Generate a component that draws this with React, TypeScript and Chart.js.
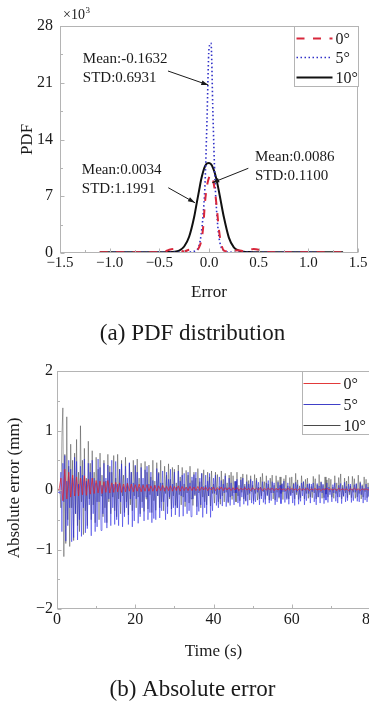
import React, { useEffect, useRef } from 'react';
import { Chart, registerables } from 'chart.js';

Chart.register(...registerables);

const SERIF = '"Liberation Serif", "Times New Roman", Times, serif';
const INK = '#1a1a1a';
const AXIS = '#b4b4b4';

// ---------------- (a) PDF distribution ----------------
const PDF_X = [-1.1, -1.0, -0.8, -0.6, -0.5, -0.45, -0.4, -0.35, -0.3, -0.25, -0.2, -0.15, -0.12, -0.1, -0.08, -0.06, -0.04, -0.02, 0, 0.02, 0.04, 0.06, 0.08, 0.1, 0.12, 0.15, 0.2, 0.25, 0.3, 0.35, 0.4, 0.45, 0.5, 0.55, 0.6, 0.8, 1.0, 1.1, 1.2, 1.35];
const PDF_0DEG = [0.1, 0.1, 0.1, 0.1, 0.1, 0.15, 0.4, 0.5, 0.35, 0.2, 0.4, 0.45, 0.4, 0.7, 1.4, 3.0, 6.3, 8.3, 9.3, 9.6, 9.0, 7.6, 5.4, 2.9, 1.3, 0.3, 0.2, 0.3, 0.35, 0.2, 0.35, 0.5, 0.4, 0.15, 0.1, 0.1, 0.1, 0.1, 0.1, 0.1];
const PDF_5DEG = [null, 0.1, 0.1, 0.1, 0.1, 0.1, 0.1, 0.1, 0.1, 0.1, 0.12, 0.2, 0.4, 0.9, 2.2, 4.6, 8.5, 16.5, 25.2, 25.9, 17.0, 9.0, 4.6, 2.0, 0.8, 0.3, 0.12, 0.1, 0.1, 0.1, 0.1, 0.1, 0.1, 0.1, 0.1, 0.1, 0.1, 0.1, null, null];
const PDF_10DEG = [0.1, 0.1, 0.1, 0.1, 0.1, 0.1, 0.12, 0.15, 0.3, 0.8, 2.0, 4.4, 6.4, 7.7, 9.0, 10.0, 10.7, 11.05, 11.1, 10.95, 10.5, 9.8, 8.8, 7.6, 6.3, 4.4, 1.9, 0.7, 0.3, 0.15, 0.12, 0.1, 0.1, 0.1, 0.1, 0.1, 0.1, 0.1, 0.1, 0.1];
const SERIES_LABELS = ['0°', '5°', '10°'];
const PDF_X_TICKS = [-1.5, -1.0, -0.5, 0, 0.5, 1.0, 1.5];
const PDF_X_MINOR = [-1.25, -0.75, -0.25, 0.25, 0.75, 1.25];
const PDF_Y_TICKS = [0, 7, 14, 21, 28];
const PDF_Y_MINOR = [3.5, 10.5, 17.5, 24.5];
const PDF_NOTE_TEXT = [
  ['Mean:-0.1632', 'STD:0.6931'],
  ['Mean:0.0034', 'STD:1.1991'],
  ['Mean:0.0086', 'STD:0.1100'],
];
// text anchor (left, first baseline) and arrow from/to, in data units
const PDF_NOTE_AT = [[-1.27, 23.44], [-1.28, 9.74], [0.463, 11.39]];
const PDF_NOTE_FROM = [[-0.413, 22.45], [-0.41, 8.05], [0.396, 10.45]];
const PDF_NOTE_TO = [[-0.007, 20.72], [-0.141, 6.2], [0.033, 8.67]];

// ---------------- (b) Absolute error ----------------
// 0° series, sampled every 0.5 s
const TIME_COARSE = [
  0, 0.5, 1, 1.5, 2, 2.5, 3, 3.5, 4, 4.5,
  5, 5.5, 6, 6.5, 7, 7.5, 8, 8.5, 9, 9.5,
  10, 10.5, 11, 11.5, 12, 12.5, 13, 13.5, 14, 14.5,
  15, 15.5, 16, 16.5, 17, 17.5, 18, 18.5, 19, 19.5,
  20, 20.5, 21, 21.5, 22, 22.5, 23, 23.5, 24, 24.5,
  25, 25.5, 26, 26.5, 27, 27.5, 28, 28.5, 29, 29.5,
  30, 30.5, 31, 31.5, 32, 32.5, 33, 33.5, 34, 34.5,
  35, 35.5, 36, 36.5, 37, 37.5, 38, 38.5, 39, 39.5,
  40, 40.5, 41, 41.5, 42, 42.5, 43, 43.5, 44, 44.5,
  45, 45.5, 46, 46.5, 47, 47.5, 48, 48.5, 49, 49.5,
  50, 50.5, 51, 51.5, 52, 52.5, 53, 53.5, 54, 54.5,
  55, 55.5, 56, 56.5, 57, 57.5, 58, 58.5, 59, 59.5,
  60, 60.5, 61, 61.5, 62, 62.5, 63, 63.5, 64, 64.5,
  65, 65.5, 66, 66.5, 67, 67.5, 68, 68.5, 69, 69.5,
  70, 70.5, 71, 71.5, 72, 72.5, 73, 73.5, 74, 74.5,
  75, 75.5, 76, 76.5, 77, 77.5, 78, 78.5, 79, 79.5,
  80,
];
const ERR_0DEG = [
  0, 0, 0.2, -0.18, 0.35, -0.15, 0.3, -0.12, 0.25, -0.1,
  0.22, -0.1, 0.2, -0.08, 0.24, -0.09, 0.18, -0.07, 0.2, -0.06,
  0.16, -0.05, 0.15, -0.06, 0.14, -0.04, 0.16, -0.05, 0.12, -0.04,
  0.13, -0.03, 0.12, -0.04, 0.1, -0.03, 0.11, -0.02, 0.1, -0.03,
  0.09, -0.02, 0.1, -0.03, 0.08, -0.02, 0.09, -0.02, 0.07, -0.02,
  0.08, -0.02, 0.07, -0.01, 0.08, -0.02, 0.06, -0.01, 0.07, -0.02,
  0.06, -0.01, 0.07, -0.02, 0.06, -0.01, 0.05, -0.01, 0.06, -0.01,
  0.05, -0.01, 0.06, -0.01, 0.05, 0, 0.05, -0.01, 0.04, 0,
  0.05, -0.01, 0.04, 0, 0.05, -0.01, 0.04, 0, 0.04, -0.01,
  0.04, 0, 0.04, -0.01, 0.03, 0, 0.04, 0, 0.03, -0.01,
  0.04, 0, 0.03, 0, 0.04, -0.01, 0.03, 0, 0.03, 0,
  0.03, -0.01, 0.03, 0, 0.03, 0, 0.02, -0.01, 0.03, 0,
  0.03, 0, 0.02, -0.01, 0.03, 0, 0.02, 0, 0.03, -0.01,
  0.02, 0, 0.03, 0, 0.02, -0.01, 0.02, 0, 0.03, 0,
  0.02, 0, 0.02, -0.01, 0.03, 0, 0.02, 0, 0.02, -0.01,
  0.02, 0, 0.03, 0, 0.02, -0.01, 0.02, 0, 0.02, 0,
  0.01,
];
// 5° and 10° series, sampled every 0.25 s
const TIME_FINE = [
  0, 0.25, 0.5, 0.75, 1, 1.25, 1.5, 1.75, 2, 2.25, 2.5, 2.75, 3, 3.25, 3.5, 3.75, 4, 4.25, 4.5, 4.75,
  5, 5.25, 5.5, 5.75, 6, 6.25, 6.5, 6.75, 7, 7.25, 7.5, 7.75, 8, 8.25, 8.5, 8.75, 9, 9.25, 9.5, 9.75,
  10, 10.25, 10.5, 10.75, 11, 11.25, 11.5, 11.75, 12, 12.25, 12.5, 12.75, 13, 13.25, 13.5, 13.75, 14, 14.25, 14.5, 14.75,
  15, 15.25, 15.5, 15.75, 16, 16.25, 16.5, 16.75, 17, 17.25, 17.5, 17.75, 18, 18.25, 18.5, 18.75, 19, 19.25, 19.5, 19.75,
  20, 20.25, 20.5, 20.75, 21, 21.25, 21.5, 21.75, 22, 22.25, 22.5, 22.75, 23, 23.25, 23.5, 23.75, 24, 24.25, 24.5, 24.75,
  25, 25.25, 25.5, 25.75, 26, 26.25, 26.5, 26.75, 27, 27.25, 27.5, 27.75, 28, 28.25, 28.5, 28.75, 29, 29.25, 29.5, 29.75,
  30, 30.25, 30.5, 30.75, 31, 31.25, 31.5, 31.75, 32, 32.25, 32.5, 32.75, 33, 33.25, 33.5, 33.75, 34, 34.25, 34.5, 34.75,
  35, 35.25, 35.5, 35.75, 36, 36.25, 36.5, 36.75, 37, 37.25, 37.5, 37.75, 38, 38.25, 38.5, 38.75, 39, 39.25, 39.5, 39.75,
  40, 40.25, 40.5, 40.75, 41, 41.25, 41.5, 41.75, 42, 42.25, 42.5, 42.75, 43, 43.25, 43.5, 43.75, 44, 44.25, 44.5, 44.75,
  45, 45.25, 45.5, 45.75, 46, 46.25, 46.5, 46.75, 47, 47.25, 47.5, 47.75, 48, 48.25, 48.5, 48.75, 49, 49.25, 49.5, 49.75,
  50, 50.25, 50.5, 50.75, 51, 51.25, 51.5, 51.75, 52, 52.25, 52.5, 52.75, 53, 53.25, 53.5, 53.75, 54, 54.25, 54.5, 54.75,
  55, 55.25, 55.5, 55.75, 56, 56.25, 56.5, 56.75, 57, 57.25, 57.5, 57.75, 58, 58.25, 58.5, 58.75, 59, 59.25, 59.5, 59.75,
  60, 60.25, 60.5, 60.75, 61, 61.25, 61.5, 61.75, 62, 62.25, 62.5, 62.75, 63, 63.25, 63.5, 63.75, 64, 64.25, 64.5, 64.75,
  65, 65.25, 65.5, 65.75, 66, 66.25, 66.5, 66.75, 67, 67.25, 67.5, 67.75, 68, 68.25, 68.5, 68.75, 69, 69.25, 69.5, 69.75,
  70, 70.25, 70.5, 70.75, 71, 71.25, 71.5, 71.75, 72, 72.25, 72.5, 72.75, 73, 73.25, 73.5, 73.75, 74, 74.25, 74.5, 74.75,
  75, 75.25, 75.5, 75.75, 76, 76.25, 76.5, 76.75, 77, 77.25, 77.5, 77.75, 78, 78.25, 78.5, 78.75, 79, 79.25, 79.5, 79.75,
  80,
];
const ERR_5DEG = [
  -0.04, -0.05, -0.03, -0.06, 0.3, -0.7, 0.45, -0.2, 0.58, -0.86, 0.15, -0.6, 0.5, -0.3, 0.35, -0.87, 0.2, -0.8, 0.55, -0.4,
  0.48, -0.84, 0.1, -0.5, 0.4, -0.78, 0.25, -0.3, 0.52, -0.72, 0.15, -0.65, 0.45, -0.25, 0.3, -0.77, 0.5, -0.4, 0.2, -0.7,
  0.12, -0.62, 0.52, -0.2, 0.38, -0.68, 0.08, -0.4, 0.45, -0.55, 0.2, -0.64, 0.42, -0.15, 0.3, -0.6, 0.5, -0.3, 0.1, -0.58,
  0.48, -0.5, 0.1, -0.6, 0.35, -0.2, 0.44, -0.62, 0.06, -0.45, 0.4, -0.3, 0.2, -0.58, 0.46, -0.15, 0.3, -0.62, 0.12, -0.52,
  0.42, -0.15, 0.3, -0.56, 0.05, -0.45, 0.38, -0.3, 0.2, -0.52, 0.34, -0.12, 0.4, -0.5, 0.1, -0.38, 0.3, -0.55, 0.16, -0.48,
  0.08, -0.5, 0.36, -0.1, 0.28, -0.47, 0.12, -0.35, 0.32, -0.2, 0.04, -0.5, 0.3, -0.4, 0.18, -0.12, 0.35, -0.45, 0.1, -0.3,
  0.3, -0.42, 0.05, -0.3, 0.32, -0.45, 0.15, -0.1, 0.25, -0.44, 0.28, -0.2, 0.04, -0.4, 0.3, -0.35, 0.12, -0.45, 0.22, -0.15,
  0.26, -0.08, 0.3, -0.42, 0.02, -0.36, 0.2, -0.25, 0.28, -0.46, 0.06, -0.3, 0.25, -0.4, 0.15, -0.1, 0.28, -0.46, 0.05, -0.35,
  0.2, -0.06, 0.25, -0.26, 0.02, -0.3, 0.22, -0.15, 0.16, -0.27, 0.1, -0.05, 0.24, -0.28, 0.04, -0.2, 0.2, -0.26, 0.12, -0.1,
  0.03, -0.25, 0.15, -0.05, 0.18, -0.22, 0.02, -0.28, 0.17, -0.12, 0.2, -0.24, 0.06, -0.18, 0.14, -0.26, 0.1, -0.06, 0.18, -0.22,
  0.15, -0.24, 0.02, -0.2, 0.16, -0.04, 0.13, -0.25, 0.05, -0.15, 0.14, -0.21, 0.01, -0.24, 0.12, -0.1, 0.16, -0.22, 0.04, -0.18,
  0.14, -0.05, 0.12, -0.25, 0.02, -0.2, 0.13, -0.12, 0.08, -0.23, 0.11, -0.03, 0.15, -0.21, 0.03, -0.16, 0.12, -0.24, 0.06, -0.1,
  0.02, -0.22, 0.1, -0.26, 0.13, -0.04, 0.09, -0.24, 0.01, -0.19, 0.12, -0.1, 0.14, -0.25, 0.04, -0.18, 0.1, -0.06, 0.11, -0.22,
  0.1, -0.03, 0.12, -0.2, 0.02, -0.25, 0.11, -0.12, 0.07, -0.22, 0.13, -0.05, 0.1, -0.23, 0.03, -0.17, 0.12, -0.21, 0.05, -0.08,
  0.01, -0.2, 0.09, -0.05, 0.12, -0.19, 0.02, -0.22, 0.08, -0.12, 0.11, -0.23, 0.04, -0.1, 0.13, -0.2, 0.06, -0.18, 0.1, -0.04,
  0.1, -0.21, 0.02, -0.18, 0.09, -0.04, 0.11, -0.19, 0.01, -0.2, 0.12, -0.08, 0.07, -0.22, 0.03, -0.17, 0.1, -0.2, 0.05, -0.12,
  0.05,
];
const ERR_10DEG = [
  0, 0, 0, 0, -0.3, 0.9, 1.38, -1.12, 0.6, -0.9, 1.23, -0.5, 0.4, -0.95, 0.77, -0.3, 0.5, -0.85, 0.62, -0.4,
  0.85, -0.6, 0.3, -0.7, 1.08, -0.2, 0.5, -0.75, 0.7, -0.35, 0.2, -0.6, 0.82, -0.15, 0.45, -0.5, 0.66, -0.25, 0.3, -0.55,
  0.55, -0.2, 0.35, -0.5, 0.62, -0.1, 0.25, -0.45, 0.5, -0.3, 0.15, -0.55, 0.6, -0.2, 0.4, -0.4, 0.3, -0.12, 0.58, -0.35,
  0.2, -0.45, 0.6, -0.15, 0.35, -0.4, 0.5, -0.1, 0.25, -0.38, 0.55, -0.2, 0.12, -0.42, 0.45, -0.25, 0.3, -0.35, 0.5, -0.1,
  0.4, -0.3, 0.52, -0.12, 0.2, -0.4, 0.45, -0.2, 0.1, -0.36, 0.48, -0.15, 0.3, -0.32, 0.42, -0.08, 0.22, -0.38, 0.5, -0.18,
  0.15, -0.34, 0.46, -0.1, 0.3, -0.3, 0.5, -0.2, 0.12, -0.35, 0.4, -0.06, 0.25, -0.28, 0.44, -0.15, 0.18, -0.32, 0.38, -0.1,
  0.35, -0.26, 0.12, -0.3, 0.42, -0.08, 0.22, -0.25, 0.38, -0.12, 0.1, -0.28, 0.33, -0.05, 0.25, -0.22, 0.4, -0.15, 0.16, -0.26,
  0.3, -0.1, 0.2, -0.28, 0.36, -0.05, 0.14, -0.3, 0.28, -0.12, 0.34, -0.2, 0.08, -0.25, 0.3, -0.1, 0.22, -0.27, 0.32, -0.06,
  0.1, -0.22, 0.3, -0.08, 0.26, -0.2, 0.06, -0.24, 0.32, -0.1, 0.18, -0.2, 0.28, -0.04, 0.12, -0.22, 0.25, -0.12, 0.3, -0.16,
  0.24, -0.05, 0.14, -0.2, 0.3, -0.1, 0.08, -0.18, 0.22, -0.04, 0.27, -0.15, 0.1, -0.19, 0.26, -0.08, 0.16, -0.17, 0.24, -0.03,
  0.08, -0.18, 0.26, -0.06, 0.2, -0.17, 0.05, -0.15, 0.22, -0.1, 0.28, -0.03, 0.14, -0.16, 0.24, -0.08, 0.1, -0.17, 0.2, -0.05,
  0.25, -0.15, 0.08, -0.17, 0.24, -0.04, 0.16, -0.14, 0.22, -0.06, 0.1, -0.16, 0.19, -0.03, 0.25, -0.14, 0.07, -0.15, 0.21, -0.08,
  0.22, -0.05, 0.12, -0.15, 0.28, -0.08, 0.17, -0.16, 0.07, -0.13, 0.24, -0.02, 0.14, -0.15, 0.18, -0.06, 0.2, -0.14, 0.1, -0.12,
  0.06, -0.13, 0.23, -0.05, 0.19, -0.15, 0.09, -0.12, 0.26, -0.04, 0.14, -0.14, 0.08, -0.13, 0.22, -0.07, 0.17, -0.12, 0.2, -0.03,
  0.18, -0.12, 0.05, -0.14, 0.24, -0.06, 0.12, -0.12, 0.21, -0.03, 0.27, -0.15, 0.08, -0.11, 0.2, -0.05, 0.15, -0.13, 0.23, -0.08,
  0.07, -0.13, 0.23, -0.04, 0.19, -0.14, 0.1, -0.12, 0.25, -0.06, 0.14, -0.15, 0.09, -0.12, 0.22, -0.03, 0.18, -0.13, 0.12, -0.1,
  0.05,
];
const ERR_X_TICKS = [0, 20, 40, 60, 80];
const ERR_X_MINOR = [10, 30, 50, 70];
const ERR_Y_TICKS = [-2, -1, 0, 1, 2];
const ERR_Y_MINOR = [-1.5, -0.5, 0.5, 1.5];

// ---------------- helpers ----------------
function withMinus(s: string) {
  return s.startsWith('-') ? '\u2212' + s.slice(1) : s;
}

function frameAndTicks(chart: any, xMaj: number[], xMin: number[], yMaj: number[], yMin: number[]) {
  const ctx = chart.ctx;
  const { left, right, top, bottom } = chart.chartArea;
  const xs = chart.scales.x;
  const ys = chart.scales.y;
  ctx.save();
  ctx.strokeStyle = AXIS;
  ctx.lineWidth = 1;
  ctx.setLineDash([]);
  const L = Math.round(left) + 0.5, R = Math.round(right) - 0.5;
  const T = Math.round(top) + 0.5, B = Math.round(bottom) - 0.5;
  ctx.strokeRect(L, T, R - L, B - T);
  ctx.beginPath();
  const xt = (vals: number[], len: number) => {
    for (const v of vals) {
      const p = Math.round(xs.getPixelForValue(v)) + 0.5;
      ctx.moveTo(p, B);
      ctx.lineTo(p, B - len);
    }
  };
  const yt = (vals: number[], len: number) => {
    for (const v of vals) {
      const p = Math.round(ys.getPixelForValue(v)) + 0.5;
      ctx.moveTo(L, p);
      ctx.lineTo(L + len, p);
    }
  };
  xt(xMaj, 4); xt(xMin, 2.5); yt(yMaj, 4); yt(yMin, 2.5);
  ctx.stroke();
  ctx.restore();
}

function arrow(ctx: CanvasRenderingContext2D, x1: number, y1: number, x2: number, y2: number) {
  ctx.beginPath();
  ctx.moveTo(x1, y1);
  ctx.lineTo(x2, y2);
  ctx.stroke();
  const a = Math.atan2(y2 - y1, x2 - x1);
  const len = 7, w = 2.3;
  ctx.beginPath();
  ctx.moveTo(x2, y2);
  ctx.lineTo(x2 - len * Math.cos(a) + w * Math.sin(a), y2 - len * Math.sin(a) - w * Math.cos(a));
  ctx.lineTo(x2 - len * Math.cos(a) - w * Math.sin(a), y2 - len * Math.sin(a) + w * Math.cos(a));
  ctx.closePath();
  ctx.fill();
}

function legend(chart: any, colors: string[], widths: number[], boxW: number, boxH: number, rows: number[], lineX0: number, lineX1: number, textX: number, size: number) {
  const ctx = chart.ctx;
  const { right, top } = chart.chartArea;
  const bx = Math.round(right - boxW) + 0.5;
  const by = Math.round(top) + 0.5;
  ctx.save();
  ctx.fillStyle = '#ffffff';
  ctx.fillRect(bx, by, boxW, boxH);
  ctx.strokeStyle = AXIS;
  ctx.lineWidth = 1;
  ctx.strokeRect(bx, by, boxW, boxH);
  chart.data.datasets.forEach((ds: any, i: number) => {
    const y = Math.round(by + rows[i]) + 0.5;
    ctx.strokeStyle = colors[i];
    ctx.lineWidth = widths[i];
    ctx.setLineDash(ds.borderDash || []);
    ctx.beginPath();
    ctx.moveTo(bx + lineX0, y);
    ctx.lineTo(bx + lineX1, y);
    ctx.stroke();
    ctx.setLineDash([]);
    ctx.fillStyle = INK;
    ctx.font = `${size}px ${SERIF}`;
    ctx.textAlign = 'left';
    ctx.textBaseline = 'middle';
    ctx.fillText(ds.label, bx + textX, y + 1);
  });
  ctx.restore();
}

function text(ctx: CanvasRenderingContext2D, s: string, x: number, y: number, size: number, rotate = false) {
  ctx.save();
  ctx.fillStyle = INK;
  ctx.font = `${size}px ${SERIF}`;
  ctx.textAlign = 'center';
  ctx.textBaseline = 'middle';
  ctx.translate(x, y);
  if (rotate) ctx.rotate(-Math.PI / 2);
  ctx.fillText(s, 0, 0);
  ctx.restore();
}

const PDF_COLORS = ['#d8283c', '#3030c8', '#111111'];
const PDF_WIDTHS = [2, 1.6, 2];
const ERR_COLORS = ['rgba(228,30,40,0.85)', 'rgba(30,30,225,0.7)', 'rgba(30,30,30,0.55)'];
const ERR_LEGEND_COLORS = ['#e23a3a', '#4040c8', '#4a4a4a'];

const pdfDecor = {
  id: 'pdfDecor',
  afterDraw(chart: any) {
    const ctx = chart.ctx as CanvasRenderingContext2D;
    const { left, right, top, bottom } = chart.chartArea;
    const xs = chart.scales.x, ys = chart.scales.y;
    frameAndTicks(chart, PDF_X_TICKS, PDF_X_MINOR, PDF_Y_TICKS, PDF_Y_MINOR);
    ctx.save();
    ctx.fillStyle = INK;
    ctx.textAlign = 'left';
    ctx.textBaseline = 'alphabetic';
    ctx.font = `14px ${SERIF}`;
    ctx.fillText('×10', left + 3, top - 7);
    const w = ctx.measureText('×10').width;
    ctx.font = `9px ${SERIF}`;
    ctx.fillText('3', left + 3 + w + 0.5, top - 13);
    ctx.restore();
    ctx.save();
    ctx.fillStyle = INK;
    ctx.strokeStyle = INK;
    ctx.lineWidth = 1;
    ctx.font = `15px ${SERIF}`;
    ctx.textAlign = 'left';
    ctx.textBaseline = 'alphabetic';
    PDF_NOTE_TEXT.forEach((lines, i) => {
      const tx = xs.getPixelForValue(PDF_NOTE_AT[i][0]);
      const ty = ys.getPixelForValue(PDF_NOTE_AT[i][1]);
      lines.forEach((ln, k) => ctx.fillText(ln, tx, ty + k * 19));
      arrow(ctx,
        xs.getPixelForValue(PDF_NOTE_FROM[i][0]), ys.getPixelForValue(PDF_NOTE_FROM[i][1]),
        xs.getPixelForValue(PDF_NOTE_TO[i][0]), ys.getPixelForValue(PDF_NOTE_TO[i][1]));
    });
    ctx.restore();
    legend(chart, PDF_COLORS, PDF_WIDTHS, 64, 60, [11, 30.5, 50], 2, 38, 41, 16);
    text(ctx, 'PDF', 27.5, (top + bottom) / 2, 17, true);
    text(ctx, 'Error', (left + right) / 2, bottom + 40, 17);
    text(ctx, '(a) PDF distribution', 192.5, bottom + 81, 23);
  },
};

const errDecor = {
  id: 'errDecor',
  afterDraw(chart: any) {
    const ctx = chart.ctx as CanvasRenderingContext2D;
    const { left, right, top, bottom } = chart.chartArea;
    frameAndTicks(chart, ERR_X_TICKS, ERR_X_MINOR, ERR_Y_TICKS, ERR_Y_MINOR);
    legend(chart, ERR_LEGEND_COLORS, [1.2, 1.2, 1.2], 68, 63, [11, 32, 53], 1, 38, 41, 16);
    text(ctx, 'Absolute error (mm)', 15, (top + bottom) / 2 - 2, 17, true);
    text(ctx, 'Time (s)', (left + right) / 2, bottom + 43, 17);
    text(ctx, '(b) Absolute error', 192.5, bottom + 81, 23);
  },
};

function pts(xs: number[], ys: (number | null)[]) {
  return xs.map((x, i) => ({ x, y: ys[i] })).filter((p) => p.y !== null && p.y !== undefined);
}

function axisOpts(min: number, max: number, ticks: number[], fmt: (v: number) => string, size: number, pad: number, fit: (s: any) => void) {
  return {
    type: 'linear',
    min,
    max,
    grid: { display: false, drawTicks: false },
    border: { display: false },
    afterBuildTicks: (s: any) => { s.ticks = ticks.map((v) => ({ value: v })); },
    afterFit: (s: any) => { fit(s); s.paddingLeft = 0; s.paddingRight = 0; s.paddingTop = 0; s.paddingBottom = 0; },
    ticks: {
      autoSkip: false,
      maxRotation: 0,
      padding: pad,
      color: INK,
      font: { family: SERIF, size },
      callback: (v: any) => fmt(Number(v)),
    },
  };
}

export default function App() {
  const refA = useRef<HTMLCanvasElement>(null);
  const refB = useRef<HTMLCanvasElement>(null);

  useEffect(() => {
    const chartA = new Chart(refA.current as HTMLCanvasElement, {
      type: 'line',
      data: {
        datasets: [
          { label: SERIES_LABELS[0], data: pts(PDF_X, PDF_0DEG), borderColor: PDF_COLORS[0], borderWidth: PDF_WIDTHS[0], borderDash: [8, 8.5], pointRadius: 0, cubicInterpolationMode: 'monotone' },
          { label: SERIES_LABELS[1], data: pts(PDF_X, PDF_5DEG), borderColor: PDF_COLORS[1], borderWidth: PDF_WIDTHS[1], borderDash: [1.5, 2.5], pointRadius: 0, cubicInterpolationMode: 'monotone' },
          { label: SERIES_LABELS[2], data: pts(PDF_X, PDF_10DEG), borderColor: PDF_COLORS[2], borderWidth: PDF_WIDTHS[2], pointRadius: 0, cubicInterpolationMode: 'monotone' },
        ] as any,
      },
      options: {
        responsive: false,
        animation: false,
        events: [],
        layout: { padding: { left: 0, top: 26, right: 11, bottom: 62 } },
        plugins: { legend: { display: false }, tooltip: { enabled: false } },
        scales: {
          x: axisOpts(-1.5, 1.5, PDF_X_TICKS, (v) => withMinus(v.toFixed(1)), 15, 1, (s) => { s.height = 30; }),
          y: axisOpts(0, 28, PDF_Y_TICKS, (v) => String(v), 16, 7, (s) => { s.width = 60; }),
        } as any,
      },
      plugins: [pdfDecor],
    });

    const chartB = new Chart(refB.current as HTMLCanvasElement, {
      type: 'line',
      data: {
        datasets: [
          { label: SERIES_LABELS[0], data: pts(TIME_COARSE, ERR_0DEG), borderColor: ERR_COLORS[0], borderWidth: 0.8, pointRadius: 0, tension: 0 },
          { label: SERIES_LABELS[1], data: pts(TIME_FINE, ERR_5DEG), borderColor: ERR_COLORS[1], borderWidth: 0.7, pointRadius: 0, tension: 0 },
          { label: SERIES_LABELS[2], data: pts(TIME_FINE, ERR_10DEG), borderColor: ERR_COLORS[2], borderWidth: 0.7, pointRadius: 0, tension: 0 },
        ] as any,
      },
      options: {
        responsive: false,
        animation: false,
        events: [],
        layout: { padding: { left: 0, top: 26, right: 30, bottom: 63 } },
        plugins: { legend: { display: false }, tooltip: { enabled: false } },
        scales: {
          x: axisOpts(0, 80, ERR_X_TICKS, (v) => String(v), 16, 1, (s) => { s.height = 30; }),
          y: axisOpts(-2, 2, ERR_Y_TICKS, (v) => withMinus(String(v)), 16, 4, (s) => { s.width = 57; }),
        } as any,
      },
      plugins: [errDecor],
    });

    return () => {
      chartA.destroy();
      chartB.destroy();
    };
  }, []);

  return (
    <div style={{ position: 'fixed', left: 0, top: 0, width: 369, height: 702, overflow: 'hidden', background: '#ffffff' }}>
      <canvas ref={refA} width={369} height={345} style={{ position: 'absolute', left: 0, top: 0, width: 369, height: 345 }} />
      <canvas ref={refB} width={400} height={357} style={{ position: 'absolute', left: 0, top: 345, width: 400, height: 357 }} />
    </div>
  );
}
